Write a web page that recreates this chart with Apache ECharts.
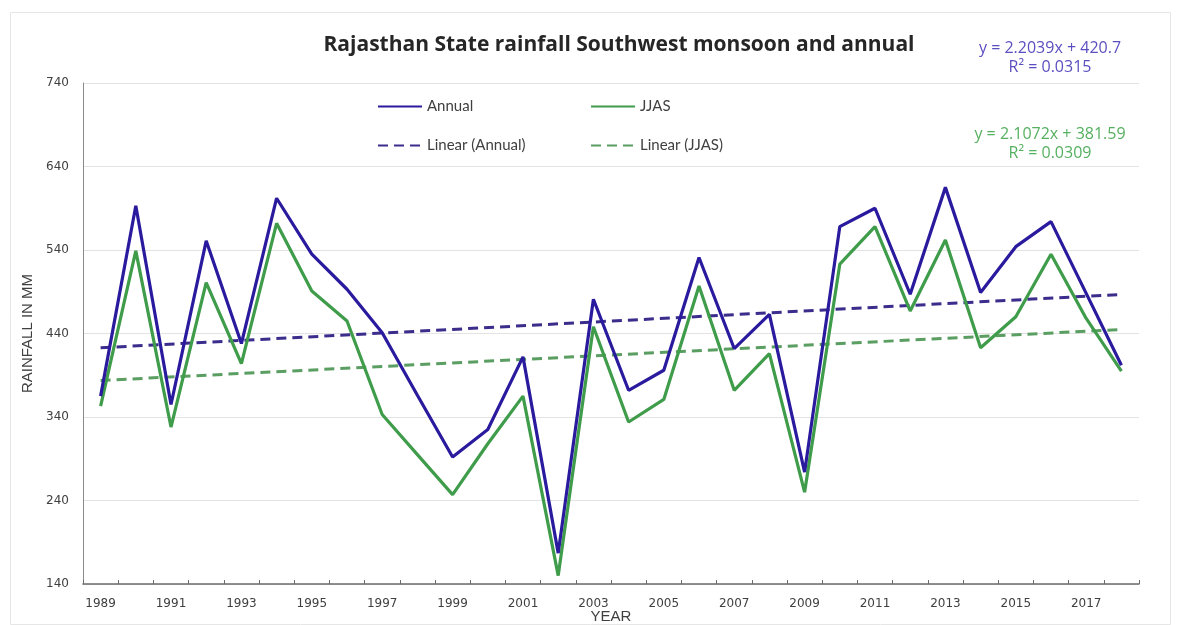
<!DOCTYPE html>
<html>
<head>
<meta charset="utf-8">
<script src="https://cdn.jsdelivr.net/npm/echarts@6/dist/echarts.min.js"></script>
<style>
  html, body { margin: 0; padding: 0; background: #fff; }
  #chart { width: 1179px; height: 625px; }
</style>
</head>
<body>
<div id="chart"></div>
<script>
// years on the x axis
let years = ['1989', '1990', '1991', '1992', '1993', '1994', '1995', '1996', '1997', '1998',
    '1999', '2000', '2001', '2002', '2003', '2004', '2005', '2006', '2007', '2008',
    '2009', '2010', '2011', '2012', '2013', '2014', '2015', '2016', '2017', '2018'];
// annual rainfall (mm)
let annual = [365, 593, 355, 551, 428, 602, 535, 493, 441, 366,
    292, 325, 412, 177, 481, 372, 396, 531, 422, 463,
    274, 568, 590, 487, 615, 489, 544, 574, 488, 402];
// southwest monsoon (JJAS) rainfall (mm)
let jjas = [353, 539, 328, 501, 404, 572, 491, 455, 343, 295,
    247, 308, 365, 150, 448, 334, 361, 497, 372, 416,
    250, 523, 568, 467, 552, 423, 460, 535, 458, 395];
// trend lines: values at first and last year
let trendAnnual = [422.9, 486.8];
let trendJJAS = [383.7, 444.8];
let eqAnnual = ['y = 2.2039x + 420.7', 'R² = 0.0315'];
let eqJJAS = ['y = 2.1072x + 381.59', 'R² = 0.0309'];

let blue = '#2a1a9e';
let green = '#3f9c4a';
let blueDash = '#3a2d8c';
let greenDash = '#5b9e62';

let myChart = echarts.init(document.getElementById('chart'));
let legendText = { color: '#404040', fontSize: 15, fontFamily: 'Lato' };
let legendBase = { itemWidth: 44, itemHeight: 10, itemGap: 0, textStyle: legendText, itemStyle: { opacity: 0 } };
let option = {
    backgroundColor: '#fff',
    animation: false,
    title: {
        text: 'Rajasthan State rainfall Southwest monsoon and annual',
        left: 614,
        top: 30,
        textAlign: 'center',
        textStyle: { fontFamily: 'Open Sans', fontWeight: 'bold', fontSize: 21, color: '#262626' }
    },
    legend: [
        Object.assign({ data: ['Annual'], left: 372, top: 94 }, legendBase),
        Object.assign({ data: ['JJAS'], left: 585, top: 94 }, legendBase),
        Object.assign({ data: ['Linear (Annual)'], left: 372, top: 133 }, legendBase),
        Object.assign({ data: ['Linear (JJAS)'], left: 585, top: 133 }, legendBase)
    ],
    grid: { left: 83, right: 40, top: 83, bottom: 41, outerBoundsMode: 'none' },
    xAxis: {
        type: 'category',
        data: years,
        boundaryGap: true,
        name: 'YEAR',
        nameLocation: 'middle',
        nameGap: 25,
        nameMoveOverlap: false,
        nameTextStyle: { color: '#404040', fontSize: 15, fontFamily: 'Liberation Sans' },
        axisLine: { lineStyle: { color: '#6b6b6b', width: 1.5 } },
        axisTick: { show: true, inside: true, length: 4, interval: 0, lineStyle: { color: '#6b6b6b' } },
        axisLabel: { interval: 1, color: '#404040', fontSize: 12, fontFamily: 'DejaVu Sans', margin: 14 }
    },
    yAxis: {
        type: 'value',
        min: 140,
        max: 740,
        interval: 100,
        name: 'RAINFALL IN MM',
        nameLocation: 'middle',
        nameGap: 48,
        nameRotate: 90,
        nameTextStyle: { color: '#404040', fontSize: 15, fontFamily: 'Liberation Sans' },
        axisLine: { show: true, lineStyle: { color: '#8a8a8a' } },
        axisTick: { show: false },
        splitLine: { lineStyle: { color: '#e3e3e3' } },
        axisLabel: { color: '#404040', fontSize: 12, fontFamily: 'DejaVu Sans', margin: 14 }
    },
    series: [
        {
            name: 'Annual', type: 'line', data: annual, symbol: 'none',
            lineStyle: { color: blue, width: 3.2 }, itemStyle: { color: blue }, z: 4
        },
        {
            name: 'JJAS', type: 'line', data: jjas, symbol: 'none',
            lineStyle: { color: green, width: 3.2 }, itemStyle: { color: green }, z: 3
        },
        {
            name: 'Linear (Annual)', type: 'line', symbol: 'none',
            data: [[years[0], trendAnnual[0]], [years[years.length - 1], trendAnnual[1]]],
            lineStyle: { color: blueDash, width: 3, type: [10, 6] }, itemStyle: { color: blueDash }, z: 2
        },
        {
            name: 'Linear (JJAS)', type: 'line', symbol: 'none',
            data: [[years[0], trendJJAS[0]], [years[years.length - 1], trendJJAS[1]]],
            lineStyle: { color: greenDash, width: 3, type: [10, 6] }, itemStyle: { color: greenDash }, z: 2
        }
    ],
    graphic: [
        {
            type: 'rect', left: 8, top: 10, z: -1,
            shape: { width: 1160, height: 612 },
            style: { fill: 'none', stroke: '#e6e6e6', lineWidth: 1 }
        },
        {
            type: 'text', x: 1050, y: 39,
            style: { text: eqAnnual.join('\n'), align: 'center', fill: '#5b4fc0',
                font: '16px "Open Sans"', lineHeight: 19 }
        },
        {
            type: 'text', x: 1050, y: 125,
            style: { text: eqJJAS.join('\n'), align: 'center', fill: '#55b060',
                font: '16px "Open Sans"', lineHeight: 19 }
        }
    ]
};
myChart.setOption(option);
</script>
</body>
</html>
